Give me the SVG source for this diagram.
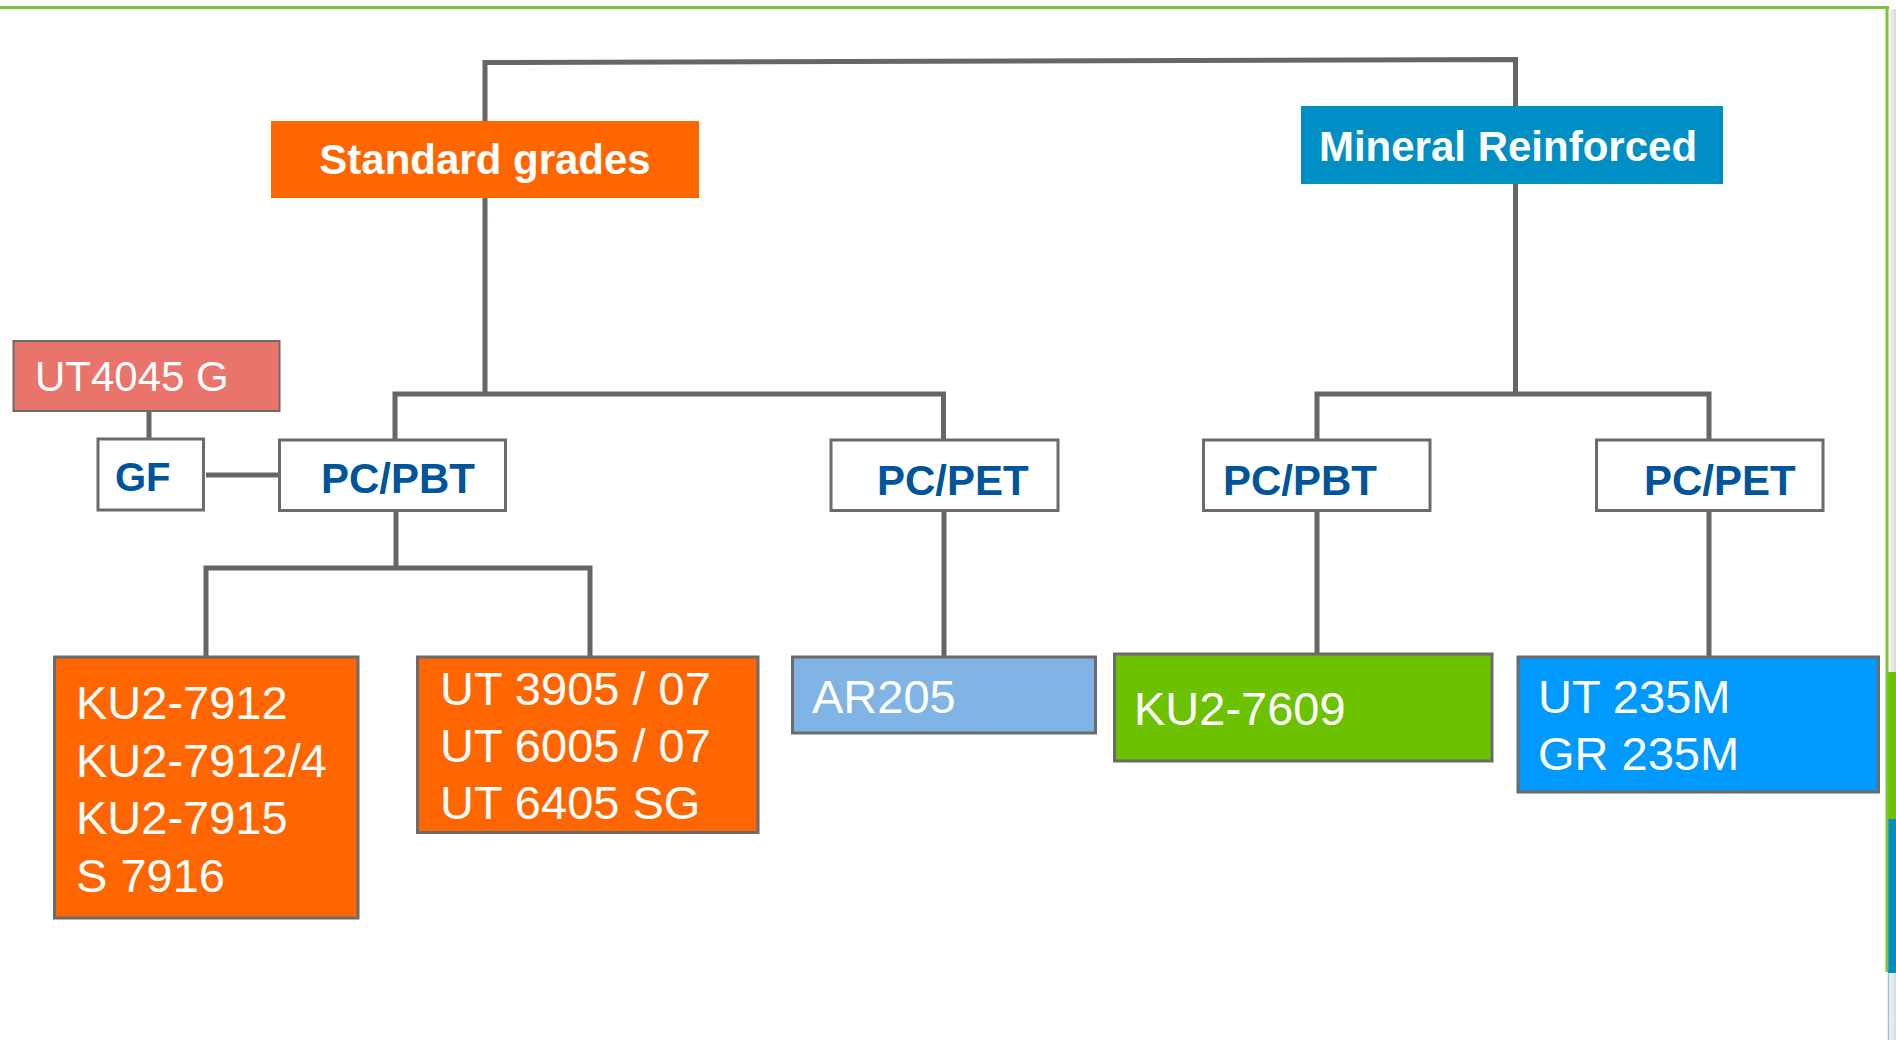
<svg xmlns="http://www.w3.org/2000/svg" width="1896" height="1040" viewBox="0 0 1896 1040">
<style>
.conn{fill:none;stroke:#666666;stroke-width:5;stroke-linejoin:miter;stroke-linecap:butt}
.wbox{fill:#ffffff;stroke:#6b6b6b;stroke-width:3}
.cbox{stroke:#6b6b6b;stroke-width:3}
.hdr{font-family:"Liberation Sans",Arial,sans-serif;font-weight:bold;font-size:42px;fill:#ffffff}
.blue{font-family:"Liberation Sans",Arial,sans-serif;font-weight:bold;font-size:42px;fill:#00559A}
.prod{font-family:"Liberation Sans",Arial,sans-serif;font-size:47px;fill:#ffffff}
</style>
<defs>
<linearGradient id="edge" x1="0" y1="0" x2="1" y2="0">
<stop offset="0" stop-color="#f4f4f4"/>
<stop offset="1" stop-color="#dcdcdc"/>
</linearGradient>
</defs>
<rect x="0" y="0" width="1896" height="1040" fill="#ffffff"/>
<g id="frame">
<rect x="1889" y="9" width="7" height="1031" fill="url(#edge)"/>
<rect x="1888" y="672" width="8" height="147" fill="#6CC100"/>
<rect x="1888" y="819" width="8" height="154" fill="#008FC5"/>
<line x1="1888.5" y1="973" x2="1888.5" y2="1040" stroke="#8ccbe8" stroke-width="1.5"/>
<line x1="0" y1="7.5" x2="1889" y2="7.5" stroke="#7DC43B" stroke-width="3"/>
<line x1="1887" y1="6" x2="1887" y2="972" stroke="#7DC43B" stroke-width="3"/>
</g>
<g id="connectors">
<path class="conn" d="M485,394 V62.5 L1515.5,59.5 V394" stroke-width="6"/>
<path class="conn" d="M395,440 V394 H943.5 V440"/>
<path class="conn" d="M1317,440 V394 H1709 V440"/>
<path class="conn" d="M149,411 V438"/>
<path class="conn" d="M206,475 H279"/>
<path class="conn" d="M396,511 V568"/>
<path class="conn" d="M206,657 V568 H590 V657"/>
<path class="conn" d="M944,511 V657"/>
<path class="conn" d="M1317,511 V654"/>
<path class="conn" d="M1709,511 V657"/>
</g>
<g id="standard-grades">
<rect x="271" y="121" width="428" height="77" fill="#FF6600"/>
<text class="hdr" x="485" y="174" text-anchor="middle">Standard grades</text>
</g>
<g id="mineral-reinforced">
<rect x="1301" y="106" width="422" height="78" fill="#008FC5"/>
<text class="hdr" x="1508" y="161" text-anchor="middle">Mineral Reinforced</text>
</g>
<g id="ut4045g">
<rect x="13.5" y="341" width="266" height="70" fill="#E8746B" stroke="#6b6b6b" stroke-width="2"/>
<text class="prod" x="35" y="391" style="font-size:42px">UT4045 G</text>
</g>
<g id="gf">
<rect class="wbox" x="98" y="439" width="105.5" height="71"/>
<text class="blue" x="115" y="491" style="font-size:40px">GF</text>
</g>
<g id="pcpbt-std">
<rect class="wbox" x="279.5" y="440" width="226" height="70.5"/>
<text class="blue" x="321" y="493">PC/PBT</text>
</g>
<g id="pcpet-std">
<rect class="wbox" x="831" y="440" width="227" height="70.5"/>
<text class="blue" x="877" y="495">PC/PET</text>
</g>
<g id="pcpbt-min">
<rect class="wbox" x="1203.5" y="440" width="226.5" height="70.5"/>
<text class="blue" x="1223" y="495">PC/PBT</text>
</g>
<g id="pcpet-min">
<rect class="wbox" x="1596.5" y="440" width="226.5" height="70.5"/>
<text class="blue" x="1644" y="495">PC/PET</text>
</g>
<g id="ku2-7912">
<rect class="cbox" x="54.5" y="657" width="303.5" height="261" fill="#FF6600"/>
<text class="prod" x="76" y="719">KU2-7912</text>
<text class="prod" x="76" y="777">KU2-7912/4</text>
<text class="prod" x="76" y="834">KU2-7915</text>
<text class="prod" x="76" y="892">S 7916</text>
</g>
<g id="ut3905">
<rect class="cbox" x="417.5" y="657" width="340.5" height="175.5" fill="#FF6600"/>
<text class="prod" x="440" y="705">UT 3905 / 07</text>
<text class="prod" x="440" y="762">UT 6005 / 07</text>
<text class="prod" x="440" y="819">UT 6405 SG</text>
</g>
<g id="ar205">
<rect class="cbox" x="792.5" y="657" width="303" height="76" fill="#80B4E4"/>
<text class="prod" x="812" y="713">AR205</text>
</g>
<g id="ku2-7609">
<rect class="cbox" x="1114.5" y="654" width="377.5" height="107" fill="#6CC100"/>
<text class="prod" x="1134" y="725">KU2-7609</text>
</g>
<g id="ut235m">
<rect class="cbox" x="1518" y="657" width="360.5" height="135" fill="#0099FF"/>
<text class="prod" x="1538" y="713">UT 235M</text>
<text class="prod" x="1538" y="770">GR 235M</text>
</g>
</svg>
